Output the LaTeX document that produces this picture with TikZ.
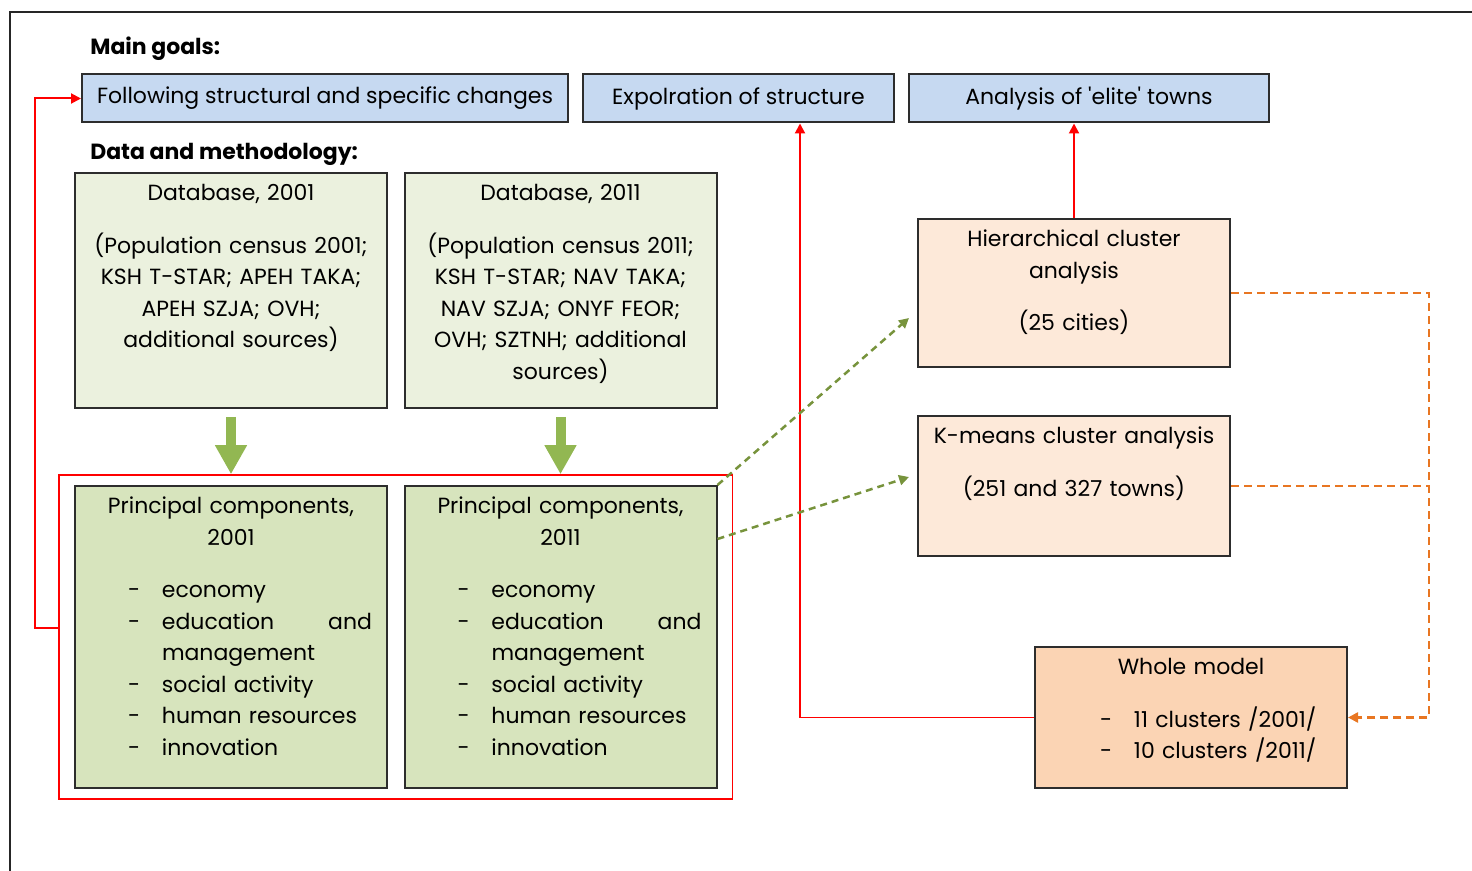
\documentclass[tikz,border=0pt]{standalone}
\usepackage{fontspec}
\setmainfont{Poppins}
\usepackage{xcolor}
\usepackage{tikz}
\usetikzlibrary{positioning,arrows.meta,fit}

\definecolor{goalblue}{RGB}{198,217,241}
\definecolor{datagreen}{RGB}{235,241,222}
\definecolor{pcgreen}{RGB}{215,228,189}
\definecolor{clusterpeach}{RGB}{253,233,217}
\definecolor{modelpeach}{RGB}{251,212,180}
\definecolor{arrowgreen}{RGB}{146,183,82}
\definecolor{dashgreen}{RGB}{119,147,60}
\definecolor{dashorange}{RGB}{232,118,34}
\definecolor{boxline}{RGB}{45,45,45}

\newcommand{\dashrow}[3][l]{\makebox[\linewidth][#1]{\hspace*{#2}\makebox[0.68cm][l]{-}#3}}

\begin{document}
\begin{tikzpicture}[
font=\fontsize{12.5}{17.9}\selectfont,
>={Triangle[length=0.2cm,width=0.2cm]},
goal/.style={rectangle, draw=boxline, fill=goalblue, line width=0.04cm, minimum height=0.96cm, inner sep=0pt},
heading/.style={anchor=west, inner sep=0pt, font=\fontsize{12.5}{14}\selectfont\bfseries},
box/.style={rectangle, draw=boxline, line width=0.04cm, text width=5.64cm, inner xsep=0.3cm, inner ysep=0pt, text height=0.56cm, align=center},
redline/.style={draw=red, line width=0.04cm},
fatarrow/.style={draw=arrowgreen, line width=0.2cm, -{Triangle[length=0.58cm,width=0.6cm]}},
greendash/.style={draw=dashgreen, line width=0.05cm, dash pattern=on 0.14cm off 0.1cm},
orangedash/.style={draw=dashorange, line width=0.05cm, dash pattern=on 0.16cm off 0.1cm}
]
\useasboundingbox (0,0) rectangle (29.44,-17.42);
\draw[line width=0.05cm, black!85] (0.2,-17.42) -- (0.2,-0.24) -- (29.44,-0.24);

% main goals
\node[heading](main_goals) at (1.80,-0.98){Main goals:};
\node[goal, minimum width=9.72cm](goal_changes) at (6.50,-1.97){Following structural and specific changes};
\node[goal, minimum width=6.22cm](goal_structure)[right of = goal_changes, node distance=8.27cm]{Expolration of structure};
\node[goal, minimum width=7.20cm](goal_elite)[right of = goal_structure, node distance=7.01cm]{Analysis of \textquotesingle elite\textquotesingle\ towns};

% data and methodology
\node[heading](data_method) at (1.80,-3.09){Data and methodology:};
\node[box, fill=datagreen, text depth=4.14cm](db_2001) at (4.62,-5.81){Database, 2001\\[0.42cm](Population census 2001;\\KSH T-STAR; APEH TAKA;\\APEH SZJA; OVH;\\additional sources)};
\node[box, fill=datagreen, text depth=4.14cm](db_2011)[right of = db_2001, node distance=6.59cm]{Database, 2011\\[0.42cm](Population census 2011;\\KSH T-STAR; NAV TAKA;\\NAV SZJA; ONYF FEOR;\\OVH; SZTNH; additional\\sources)};
\node[box, fill=pcgreen, text depth=5.48cm](pc_2001)[below of = db_2001, node distance=6.93cm]{Principal components,\\2001\\[0.42cm]\dashrow{0.76cm}{economy}\\\dashrow[s]{0.76cm}{education\hfill and}\\\makebox[\linewidth][l]{\hspace*{1.44cm}management}\\\dashrow{0.76cm}{social activity}\\\dashrow{0.76cm}{human resources}\\\dashrow{0.76cm}{innovation}};
\node[box, fill=pcgreen, text depth=5.48cm](pc_2011)[right of = pc_2001, node distance=6.59cm]{Principal components,\\2011\\[0.42cm]\dashrow{0.76cm}{economy}\\\dashrow[s]{0.76cm}{education\hfill and}\\\makebox[\linewidth][l]{\hspace*{1.44cm}management}\\\dashrow{0.76cm}{social activity}\\\dashrow{0.76cm}{human resources}\\\dashrow{0.76cm}{innovation}};
\node[draw=red, line width=0.03cm, fit=(pc_2001)(pc_2011), inner xsep=0.3cm, inner ysep=0.2cm](pc_frame){};

% cluster analyses
\node[box, fill=clusterpeach, text depth=2.40cm](hier) at (21.48,-5.86){Hierarchical cluster\\analysis\\[0.42cm](25 cities)};
\node[box, fill=clusterpeach, text depth=2.24cm](kmeans)[below of = hier, node distance=3.86cm]{K-means cluster analysis\\[0.42cm](251 and 327 towns)};
\node[box, fill=modelpeach, text depth=2.26cm](model) at (23.82,-14.35){Whole model\\[0.42cm]\dashrow{1.0cm}{11 clusters /2001/}\\\dashrow{1.0cm}{10 clusters /2011/}};

\draw[fatarrow] ([yshift=-0.16cm]db_2001.south) -- (db_2001.south |- pc_frame.north);
\draw[fatarrow] ([yshift=-0.16cm]db_2011.south) -- (db_2011.south |- pc_frame.north);

\draw[redline,->] ([yshift=0.18cm]pc_frame.west) -- ++(-0.46,0) |- (goal_changes.west);
\draw[redline,->] (model.west) -| ([xshift=1.23cm]goal_structure.south);
\draw[redline,->] (hier.north) -- (hier.north |- goal_elite.south);

\draw[greendash,->] (pc_2011.north east) -- ([xshift=-0.16cm,yshift=-0.5cm]hier.west);
\draw[greendash,->] ([yshift=-1.08cm]pc_2011.north east) -- ([xshift=-0.16cm,yshift=0.18cm]kmeans.west);

\draw[orangedash] (kmeans.east) -- ++(3.96,0);
\draw[orangedash,->] (hier.east) -- ++(3.96,0) |- (model.east);

\end{tikzpicture}
\end{document}
